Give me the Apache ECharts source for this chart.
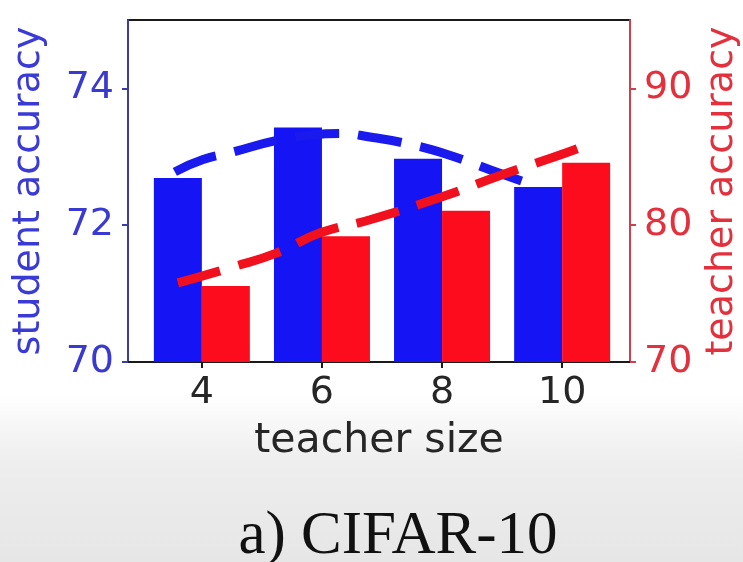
<!DOCTYPE html>
<html>
<head>
<meta charset="utf-8">
<script src="https://cdn.jsdelivr.net/npm/echarts@6/dist/echarts.min.js"></script>
<style>
html,body{margin:0;padding:0;background:#fff;overflow:hidden;}
#c{width:743px;height:562px;}
</style>
</head>
<body>
<div id="c"></div>
<script>
// teacher sizes (x positions) and tick labels
var teacherSizes = [4, 6, 8, 10];
var xTicks = [4, 6, 8, 10];
var leftTicks = [70, 72, 74];
var rightTicks = [70, 80, 90];

// bar values
var studentAcc = [72.69, 73.43, 72.97, 72.56];
var teacherAcc = [75.56, 79.2, 81.05, 84.57];

// dashed trend curves: [teacher size, accuracy]
var studentTrendX = [3.55, 4.02, 4.52, 5.25, 5.83, 6.3, 6.8, 7.42, 8.1, 9.02, 9.52];
var studentTrendY = [72.78, 72.96, 73.07, 73.24, 73.32, 73.34, 73.29, 73.19, 73.03, 72.74, 72.59];
var teacherTrendX = [3.6, 4.52, 5.25, 5.97, 6.8, 8.0, 9.0, 9.83, 10.3];
var teacherTrendY = [75.78, 76.95, 77.98, 79.44, 80.4, 82.08, 83.69, 84.93, 85.67];

function pairs(xs, ys){ return xs.map(function(x,i){ return [x, ys[i]]; }); }

var chart = echarts.init(document.getElementById('c'), null, {renderer:'canvas'});
var sans = 'DejaVu Sans';
var option = {
  animation: false,
  backgroundColor: {
    type: 'linear', x: 0, y: 0, x2: 0, y2: 1,
    colorStops: [
      {offset: 0, color: '#ffffff'},
      {offset: 0.70, color: '#ffffff'},
      {offset: 0.82, color: '#eeeeee'},
      {offset: 1, color: '#e6e6e6'}
    ]
  },
  grid: {left: 128, right: 113, top: 20, bottom: 200, show: true, borderColor: '#1a1a1a', borderWidth: 2, backgroundColor: 'transparent', containLabel: false, outerBoundsMode: 'none'},
  xAxis: {
    type: 'value', min: 2.77, max: 11.13,
    splitLine: {show: false},
    axisLine: {show: true, onZero: false, lineStyle: {color: '#1a1a1a', width: 2}},
    axisTick: {show: true, customValues: xTicks, length: 6, lineStyle: {color: '#1a1a1a', width: 2}},
    axisLabel: {customValues: xTicks, fontSize: 38, fontFamily: sans, color: '#262626', margin: 12},
    name: 'teacher size', nameLocation: 'middle', nameGap: 59,
    nameTextStyle: {fontSize: 41, fontFamily: sans, color: '#262626'}
  },
  yAxis: [
    {
      type: 'value', min: 70, max: 75, position: 'left',
      splitLine: {show: false},
      axisLine: {show: true, onZero: false, lineStyle: {color: '#3c3ca8', width: 2}},
      axisTick: {show: true, customValues: leftTicks, length: 6, lineStyle: {color: '#3c3ca8', width: 2}},
      axisLabel: {customValues: leftTicks, fontSize: 38, fontFamily: sans, color: '#3a3ad2', margin: 14},
      name: 'student accuracy', nameLocation: 'middle', nameRotate: 90, nameGap: 80,
      nameTextStyle: {fontSize: 38, fontFamily: sans, color: '#3a3ad6'}
    },
    {
      type: 'value', min: 70, max: 95, position: 'right',
      splitLine: {show: false},
      axisLine: {show: true, onZero: false, lineStyle: {color: '#d0404c', width: 2}},
      axisTick: {show: true, customValues: rightTicks, length: 6, lineStyle: {color: '#d0404c', width: 2}},
      axisLabel: {customValues: rightTicks, fontSize: 38, fontFamily: sans, color: '#e4303c', margin: 14},
      name: 'teacher accuracy', nameLocation: 'middle', nameRotate: 90, nameGap: 66,
      nameTextStyle: {fontSize: 38, fontFamily: sans, color: '#e4303c'}
    }
  ],
  series: [
    {
      type: 'bar', name: 'student', yAxisIndex: 0, z: 2,
      data: pairs(teacherSizes, studentAcc),
      barWidth: 48, barGap: '0%',
      itemStyle: {color: '#1414f4'}
    },
    {
      type: 'line', name: 'student trend', yAxisIndex: 0, z: 3,
      data: pairs(studentTrendX, studentTrendY),
      smooth: true, symbol: 'none',
      lineStyle: {color: '#1a1aee', width: 9, type: [44, 19], cap: 'butt'}
    },
    {
      type: 'bar', name: 'teacher', yAxisIndex: 1, z: 4,
      data: pairs(teacherSizes, teacherAcc),
      barWidth: 48, barGap: '0%',
      itemStyle: {color: '#fc0c1c'}
    },
    {
      type: 'line', name: 'teacher trend', yAxisIndex: 1, z: 5,
      data: pairs(teacherTrendX, teacherTrendY),
      smooth: true, symbol: 'none',
      lineStyle: {color: '#f0101e', width: 9, type: [44, 19], cap: 'butt'}
    }
  ],
  graphic: [
    {
      type: 'text', x: 398, y: 537, z: 10,
      style: {text: 'a) CIFAR-10', font: '61px "Liberation Serif"', fill: '#111111', textAlign: 'center', textVerticalAlign: 'middle'}
    }
  ]
};
chart.setOption(option);
</script>
</body>
</html>
